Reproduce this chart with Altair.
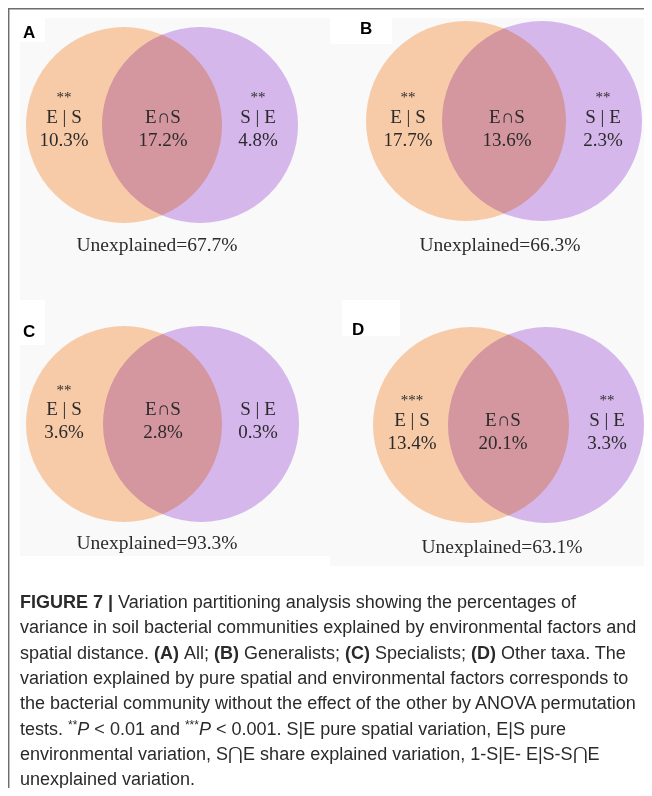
import altair as alt
import pandas as pd

# ---------------- data ----------------
panels = ["A", "B", "C", "D"]
es_pct = ["10.3%", "17.7%", "3.6%", "13.4%"]
ens_pct = ["17.2%", "13.6%", "2.8%", "20.1%"]
se_pct = ["4.8%", "2.3%", "0.3%", "3.3%"]
es_sig = ["**", "**", "**", "***"]
se_sig = ["**", "**", "", "**"]
unexplained = ["67.7%", "66.3%", "93.3%", "63.1%"]
region_names = ["E | S", "E\u2229S", "S | E"]

caption_lines = [
    [("FIGURE 7 |", "b"), (" Variation partitioning analysis showing the percentages of", "r")],
    [("variance in soil bacterial communities explained by environmental factors and", "r")],
    [("spatial distance. ", "r"), ("(A)", "b"), (" All; ", "r"), ("(B)", "b"), (" Generalists; ", "r"),
     ("(C)", "b"), (" Specialists; ", "r"), ("(D)", "b"), (" Other taxa. The", "r")],
    [("variation explained by pure spatial and environmental factors corresponds to", "r")],
    [("the bacterial community without the effect of the other by ANOVA permutation", "r")],
    [("tests. ", "r"), ("**", "s"), ("P", "i"), (" < 0.01 and ", "r"), ("***", "s"), ("P", "i"),
     (" < 0.001. S|E pure spatial variation, E|S pure", "r")],
    [("environmental variation, S\u22c2E share explained variation, 1-S|E- E|S-S\u22c2E", "r")],
    [("unexplained variation.", "r")],
]

# ---------------- layout (page pixel coordinates) ----------------
# circles: left cx, right cx, cy, diameter
circ = {"A": (124, 200, 125, 196), "B": (466, 542, 121, 200),
        "C": (124, 201, 424, 196), "D": (471, 546, 425, 196)}
# text x: E|S, E∩S, S|E, unexplained
tx = {"A": (64, 163, 258, 157), "B": (408, 507, 603, 500),
      "C": (64, 163, 258, 157), "D": (412, 503, 607, 502)}
# text y: stars, label, percent, unexplained
ty = {"A": (97, 117, 140, 245), "B": (97, 117, 140, 245),
      "C": (390, 409, 432, 543), "D": (400, 420, 443, 547)}
lab_pos = {"A": (23, 33), "B": (360, 29), "C": (23, 332), "D": (352, 330)}
bg_rects = [(20, 644, 18, 556), (330, 644, 556, 566)]
white_boxes = [(20, 45, 18, 42), (330, 392, 18, 44), (20, 45, 300, 345), (342, 400, 300, 336)]

ORANGE = "#F8CBA8"
PURPLE = "#DABCF2"
TXT = "#2b2b2b"

LEFT, RIGHT = 8, 644
TOP, BOTTOM = 8, 788
xs = alt.Scale(domain=[LEFT, RIGHT], nice=False, zero=False)
ys = alt.Scale(domain=[TOP, BOTTOM], nice=False, zero=False, reverse=True)
X = lambda f="x": alt.X(f"{f}:Q", scale=xs, axis=None)
Y = lambda f="y": alt.Y(f"{f}:Q", scale=ys, axis=None)

# backgrounds
bg_df = pd.DataFrame(bg_rects, columns=["x", "x2", "y", "y2"])
wb_df = pd.DataFrame(white_boxes, columns=["x", "x2", "y", "y2"])
bg = alt.Chart(bg_df).mark_rect(color="#f9f9f9").encode(x=X(), x2="x2", y=Y(), y2="y2")
wb = alt.Chart(wb_df).mark_rect(color="#ffffff").encode(x=X(), x2="x2", y=Y(), y2="y2")

left_df = pd.DataFrame([{"x": circ[p][0], "y": circ[p][2], "s": circ[p][3] ** 2} for p in panels])
right_df = pd.DataFrame([{"x": circ[p][1], "y": circ[p][2], "s": circ[p][3] ** 2} for p in panels])
left = alt.Chart(left_df).mark_point(shape="circle", filled=True, opacity=1, color=ORANGE, strokeWidth=0).encode(
    x=X(), y=Y(), size=alt.Size("s:Q", scale=None))
right = alt.Chart(right_df).mark_point(shape="circle", filled=True, opacity=1, color=PURPLE, strokeWidth=0,
                                       blend="multiply").encode(
    x=X(), y=Y(), size=alt.Size("s:Q", scale=None))

# venn texts
rows = []
for i, p in enumerate(panels):
    xe, xi, xse, xu = tx[p]
    ysig, ylab, ypct, yun = ty[p]
    rows.append({"x": xe, "y": ysig, "t": es_sig[i], "fs": 15})
    rows.append({"x": xse, "y": ysig, "t": se_sig[i], "fs": 15})
    rows.append({"x": xe, "y": ylab, "t": region_names[0], "fs": 19})
    rows.append({"x": xi, "y": ylab, "t": region_names[1], "fs": 19})
    rows.append({"x": xse, "y": ylab, "t": region_names[2], "fs": 19})
    rows.append({"x": xe, "y": ypct, "t": es_pct[i], "fs": 19})
    rows.append({"x": xi, "y": ypct, "t": ens_pct[i], "fs": 19})
    rows.append({"x": xse, "y": ypct, "t": se_pct[i], "fs": 19})
    rows.append({"x": xu, "y": yun, "t": "Unexplained=" + unexplained[i], "fs": 19.5})
venn_df = pd.DataFrame(rows)
venn_df = venn_df[venn_df["t"] != ""]
venn_txt = alt.Chart(venn_df).mark_text(font="Liberation Serif", color=TXT, align="center",
                                        baseline="middle").encode(
    x=X(), y=Y(), text="t:N", size=alt.Size("fs:Q", scale=None))

lab_df = pd.DataFrame([{"x": lab_pos[p][0], "y": lab_pos[p][1], "t": p} for p in panels])
labs = alt.Chart(lab_df).mark_text(font="Liberation Sans", fontWeight="bold", fontSize=17, color="#000",
                                   align="left", baseline="middle").encode(x=X(), y=Y(), text="t:N")

# frame
fv = alt.Chart(pd.DataFrame([{"x": 8.7, "y": TOP, "y2": BOTTOM}])).mark_rule(
    color="#6e6e6e", strokeWidth=1.5).encode(x=X(), y=Y(), y2="y2")
fh = alt.Chart(pd.DataFrame([{"x": LEFT, "x2": RIGHT, "y": 8.7}])).mark_rule(
    color="#6e6e6e", strokeWidth=1.5).encode(x=X(), x2="x2", y=Y())

# caption (Liberation Sans = Arial metrics, used to place mixed-style segments)
REG = {' ': 278, '!': 278, '%': 889, '(': 333, ')': 333, '*': 389, ',': 278, '-': 333, '.': 278,
       ':': 278, ';': 278, '<': 584, '=': 584, '>': 584, '|': 260,
       'A': 667, 'B': 667, 'C': 722, 'D': 722, 'E': 667, 'F': 611, 'G': 778, 'H': 722, 'I': 278, 'J': 500,
       'K': 667, 'L': 556, 'M': 833, 'N': 722, 'O': 778, 'P': 667, 'Q': 778, 'R': 722, 'S': 667, 'T': 611,
       'U': 722, 'V': 667, 'W': 944, 'X': 667, 'Y': 667, 'Z': 611,
       'a': 556, 'b': 556, 'c': 500, 'd': 556, 'e': 556, 'f': 278, 'g': 556, 'h': 556, 'i': 222, 'j': 222,
       'k': 500, 'l': 222, 'm': 833, 'n': 556, 'o': 556, 'p': 556, 'q': 556, 'r': 333, 's': 500, 't': 278,
       'u': 556, 'v': 500, 'w': 722, 'x': 500, 'y': 500, 'z': 500}
BOLD = {' ': 278, '(': 333, ')': 333, '|': 280, 'A': 722, 'B': 722, 'C': 722, 'D': 722, 'E': 667,
        'F': 611, 'G': 778, 'I': 278, 'R': 722, 'U': 722}
CFS = 18.0
SFS = 12


def width(s, kind):
    table = BOLD if kind == "b" else REG
    fs = SFS if kind == "s" else CFS
    return sum(table.get(c, 556) for c in s) * fs / 1000


cap_rows = []
y0, dy = 603, 25.3
for li, segs in enumerate(caption_lines):
    x = 20.0
    y = y0 + li * dy
    for s, k in segs:
        lead = s[: len(s) - len(s.lstrip(" "))]
        xs0 = x + width(lead, k)
        cap_rows.append({"x": xs0, "y": y if k != "s" else y - 5, "t": s.strip(" "), "k": k})
        x += width(s, k)
cap_df = pd.DataFrame(cap_rows)


def cap_layer(kind, **kw):
    return alt.Chart(cap_df).transform_filter(alt.datum.k == kind).mark_text(
        font="Liberation Sans", color="#2a2a2a", align="left", baseline="middle", **kw).encode(
        x=X(), y=Y(), text="t:N")


cap_r = cap_layer("r", fontSize=CFS)
cap_b = cap_layer("b", fontSize=CFS, fontWeight="bold")
cap_i = cap_layer("i", fontSize=CFS, fontStyle="italic")
cap_s = cap_layer("s", fontSize=SFS)

chart = alt.layer(bg, wb, left, right, venn_txt, labs, fv, fh, cap_r, cap_b, cap_i, cap_s).properties(
    width=RIGHT - LEFT, height=BOTTOM - TOP, padding=0, autosize="none"
).configure_view(stroke=None)

chart.save("out.html", embed_options={"renderer": "svg", "actions": False})
